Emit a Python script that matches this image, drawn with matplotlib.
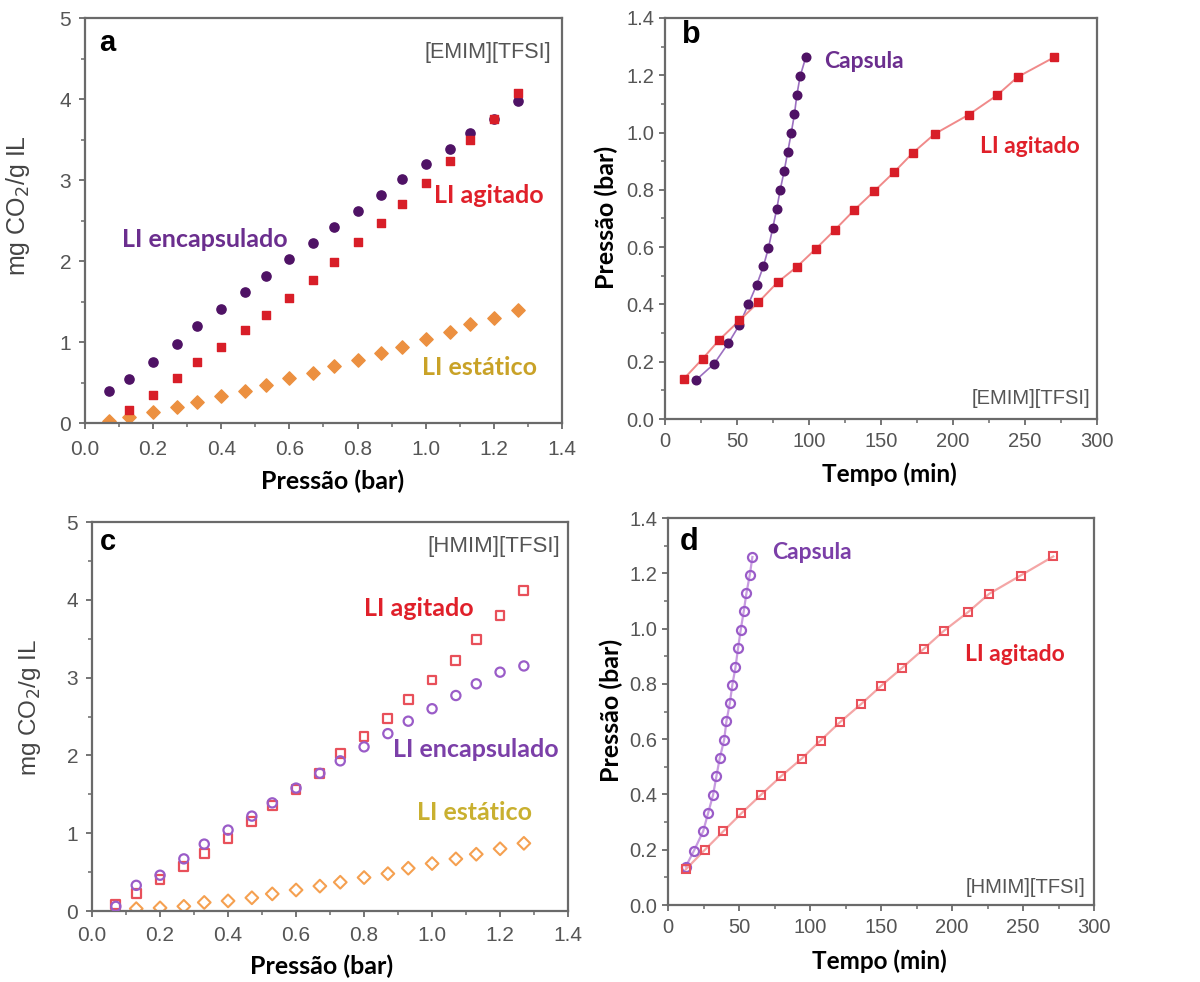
import matplotlib
matplotlib.use("Agg")
import matplotlib.pyplot as plt
from matplotlib.ticker import MultipleLocator, FormatStrFormatter

# ---- panels a / c : uptake vs pressure ----
p_all = [0.07, 0.13, 0.2, 0.27, 0.33, 0.4, 0.47, 0.53, 0.6, 0.67,
         0.73, 0.8, 0.87, 0.93, 1.0, 1.07, 1.13, 1.2, 1.27]
p_from2 = p_all[1:]

a_encaps = [0.40, 0.54, 0.75, 0.98, 1.20, 1.41, 1.62, 1.82, 2.02, 2.22,
            2.42, 2.62, 2.82, 3.01, 3.20, 3.38, 3.58, 3.76, 3.98]
a_agit = [0.16, 0.35, 0.55, 0.75, 0.94, 1.15, 1.33, 1.54, 1.76, 1.99,
          2.23, 2.47, 2.70, 2.96, 3.24, 3.50, 3.76, 4.08]
a_estat = [0.02, 0.07, 0.14, 0.20, 0.26, 0.33, 0.40, 0.47, 0.55, 0.62,
           0.70, 0.78, 0.87, 0.94, 1.04, 1.13, 1.22, 1.30, 1.39]

c_agit = [0.08, 0.23, 0.40, 0.57, 0.74, 0.93, 1.15, 1.36, 1.56, 1.77,
          2.02, 2.24, 2.47, 2.72, 2.97, 3.22, 3.49, 3.80, 4.12]
c_encaps = [0.06, 0.33, 0.46, 0.67, 0.86, 1.04, 1.22, 1.39, 1.58, 1.77,
            1.93, 2.11, 2.28, 2.44, 2.60, 2.77, 2.92, 3.07, 3.15]
c_estat = [0.03, 0.04, 0.06, 0.11, 0.13, 0.17, 0.22, 0.27, 0.32, 0.37,
           0.43, 0.48, 0.55, 0.61, 0.67, 0.73, 0.80, 0.87]

# ---- panels b / d : pressure vs time ----
b_agit_t = [13.2, 26.2, 37.8, 51.7, 64.9, 78.1, 91.5, 104.9, 118.1, 131.3,
            145.2, 159.1, 172.1, 187.2, 210.8, 230.5, 244.9, 270.3]
b_agit_p = [0.141, 0.211, 0.277, 0.344, 0.408, 0.477, 0.531, 0.595, 0.661, 0.729,
            0.795, 0.862, 0.929, 0.995, 1.062, 1.130, 1.194, 1.263]
b_caps_t = [21.3, 34.1, 44.0, 51.7, 57.9, 63.7, 68.3, 71.8, 74.8, 77.6,
            79.9, 82.7, 85.2, 87.6, 89.9, 91.5, 93.8, 97.8]
b_caps_p = [0.135, 0.193, 0.265, 0.329, 0.401, 0.469, 0.533, 0.597, 0.667, 0.734,
            0.798, 0.865, 0.932, 0.998, 1.065, 1.130, 1.196, 1.264]

d_agit_t = [12.5, 25.8, 38.8, 51.7, 65.3, 79.4, 94.0, 107.4, 121.0, 136.2,
            150.3, 165.1, 180.2, 194.5, 211.4, 226.2, 248.3, 271.3]
d_agit_p = [0.129, 0.199, 0.266, 0.332, 0.398, 0.465, 0.529, 0.595, 0.661, 0.728,
            0.794, 0.859, 0.927, 0.993, 1.060, 1.126, 1.192, 1.261]
d_caps_t = [12.5, 18.3, 24.7, 28.2, 31.7, 34.1, 36.4, 39.5, 41.1, 43.5,
            45.3, 47.5, 49.3, 51.2, 53.3, 55.2, 57.6, 59.4]
d_caps_p = [0.139, 0.197, 0.266, 0.332, 0.398, 0.467, 0.531, 0.597, 0.664, 0.730,
            0.797, 0.860, 0.929, 0.996, 1.062, 1.128, 1.195, 1.259]

purple = '#4f1265'
red = '#d81e28'
orange = '#ec9040'
txt_purple = '#6b2e8e'
txt_purple2 = '#7b3fa8'
txt_red = '#e0202a'
txt_gold = '#c9a227'
hol_red = '#e8505a'
hol_purple = '#9a5cc8'
hol_orange = '#f5a050'
frame = '#6a6a6a'
tickc = '#555555'
lbl_font = 'Lato'
sans = 'Liberation Sans'

fig = plt.figure(figsize=(12, 9.82), dpi=100)
ax_a = fig.add_axes([0.0708, 0.5692, 0.3975, 0.4124])
ax_b = fig.add_axes([0.5542, 0.5733, 0.36, 0.4084])
ax_c = fig.add_axes([0.0767, 0.0723, 0.3967, 0.3961])
ax_d = fig.add_axes([0.5567, 0.0784, 0.355, 0.3941])


def style(ax, xlim, ylim, xmaj, xmin, ymaj, ymin, xpad, ypad, lsize):
    ax.set_xlim(*xlim)
    ax.set_ylim(*ylim)
    ax.xaxis.set_major_locator(MultipleLocator(xmaj))
    ax.xaxis.set_minor_locator(MultipleLocator(xmin))
    ax.yaxis.set_major_locator(MultipleLocator(ymaj))
    ax.yaxis.set_minor_locator(MultipleLocator(ymin))
    for s in ax.spines.values():
        s.set_color(frame)
        s.set_linewidth(1.6)
    ax.tick_params(which='major', direction='out', length=4, width=1.3,
                   color=frame, labelcolor=tickc, labelsize=lsize)
    ax.tick_params(axis='x', which='major', pad=xpad)
    ax.tick_params(axis='y', which='major', pad=ypad)
    ax.tick_params(which='minor', direction='out', length=3, width=1.1, color=frame)


# panel a
ax_a.scatter(p_all, a_encaps, s=44, marker='o', color=purple, zorder=3)
ax_a.scatter(p_from2, a_agit, s=38, marker='s', color=red, zorder=3)
ax_a.scatter(p_all, a_estat, s=46, marker='D', color=orange, zorder=2)
style(ax_a, (0, 1.4), (0, 5), 0.2, 0.1, 1, 0.5, 8, 6, 15)
ax_a.xaxis.set_major_formatter(FormatStrFormatter('%.1f'))
ax_a.text(0.041, 4.69, 'a', fontsize=21, fontweight='bold', family=sans, va='center')
ax_a.text(1.368, 4.57, '[EMIM][TFSI]', fontsize=15.5, color=tickc, family=sans,
          ha='right', va='center')
ax_a.text(0.109, 2.26, 'LI encapsulado', fontsize=18, fontweight='bold',
          color=txt_purple, family=lbl_font, va='center')
ax_a.text(1.024, 2.81, 'LI agitado', fontsize=18, fontweight='bold',
          color=txt_red, family=lbl_font, va='center')
ax_a.text(0.988, 0.69, 'LI estático', fontsize=18, fontweight='bold',
          color=txt_gold, family=lbl_font, va='center')
ax_a.set_xlabel('Pressão (bar)', fontsize=18, fontweight='bold', family=lbl_font)
ax_a.set_ylabel('mg CO$_2$/g IL', fontsize=18, color='#444444', family=sans)
ax_a.xaxis.set_label_coords(0.52, -0.114)
ax_a.yaxis.set_label_coords(-0.111, 0.536)

# panel b
ax_b.plot(b_caps_t, b_caps_p, '-', color='#9b6fc0', lw=1.2, zorder=2)
ax_b.plot(b_caps_t, b_caps_p, 'o', color=purple, ms=6.2, zorder=3)
ax_b.plot(b_agit_t, b_agit_p, '-', color='#f08a8a', lw=1.4, zorder=2)
ax_b.plot(b_agit_t, b_agit_p, 's', color=red, ms=5.8, zorder=3)
style(ax_b, (0, 300), (0, 1.4), 50, 25, 0.2, 0.1, 5, 3.5, 14.5)
ax_b.yaxis.set_major_formatter(FormatStrFormatter('%.1f'))
ax_b.text(11.8, 1.34, 'b', fontsize=22, fontweight='bold', family=sans, va='center')
ax_b.text(295, 0.073, '[EMIM][TFSI]', fontsize=14.5, color=tickc, family=sans,
          ha='right', va='center')
ax_b.text(110.4, 1.247, 'Capsula', fontsize=16.5, fontweight='bold',
          color=txt_purple, family=lbl_font, va='center')
ax_b.text(218.7, 0.95, 'LI agitado', fontsize=16.5, fontweight='bold',
          color=txt_red, family=lbl_font, va='center')
ax_b.set_xlabel('Tempo (min)', fontsize=17.5, fontweight='bold', family=lbl_font)
ax_b.set_ylabel('Pressão (bar)', fontsize=18, fontweight='bold', family=lbl_font)
ax_b.xaxis.set_label_coords(0.52, -0.107)
ax_b.yaxis.set_label_coords(-0.108, 0.502)

# panel c
ax_c.scatter(p_all, c_agit, s=40, marker='s', facecolors='none',
             edgecolors=hol_red, linewidths=1.6, zorder=3)
ax_c.scatter(p_all, c_encaps, s=44, marker='o', facecolors='none',
             edgecolors=hol_purple, linewidths=1.6, zorder=3)
ax_c.scatter(p_from2, c_estat, s=42, marker='D', facecolors='none',
             edgecolors=hol_orange, linewidths=1.5, zorder=2)
style(ax_c, (0, 1.4), (0, 5), 0.2, 0.1, 1, 0.5, 7, 6, 15)
ax_c.xaxis.set_major_formatter(FormatStrFormatter('%.1f'))
ax_c.text(0.024, 4.74, 'c', fontsize=21, fontweight='bold', family=sans, va='center')
ax_c.text(1.376, 4.68, '[HMIM][TFSI]', fontsize=16, color=tickc, family=sans,
          ha='right', va='center')
ax_c.text(0.80, 3.89, 'LI agitado', fontsize=18, fontweight='bold',
          color=txt_red, family=lbl_font, va='center')
ax_c.text(0.885, 2.07, 'LI encapsulado', fontsize=18, fontweight='bold',
          color=txt_purple2, family=lbl_font, va='center')
ax_c.text(0.956, 1.26, 'LI estático', fontsize=18, fontweight='bold',
          color='#c9b030', family=lbl_font, va='center')
ax_c.set_xlabel('Pressão (bar)', fontsize=18, fontweight='bold', family=lbl_font)
ax_c.set_ylabel('mg CO$_2$/g IL', fontsize=17.5, color='#444444', family=sans)
ax_c.xaxis.set_label_coords(0.483, -0.111)
ax_c.yaxis.set_label_coords(-0.103, 0.522)

# panel d
ax_d.plot(d_caps_t, d_caps_p, '-', color='#c79be0', lw=1.6, zorder=2)
ax_d.plot(d_caps_t, d_caps_p, 'o', mfc='none', mec=hol_purple, mew=1.6, ms=6.5, zorder=3)
ax_d.plot(d_agit_t, d_agit_p, '-', color='#f4a6a6', lw=1.6, zorder=2)
ax_d.plot(d_agit_t, d_agit_p, 's', mfc='none', mec=hol_red, mew=1.5, ms=6, zorder=3)
style(ax_d, (0, 300), (0, 1.4), 50, 25, 0.2, 0.1, 5, 3.5, 14.5)
ax_d.yaxis.set_major_formatter(FormatStrFormatter('%.1f'))
ax_d.text(8.5, 1.313, 'd', fontsize=22, fontweight='bold', family=sans, va='center')
ax_d.text(293.7, 0.065, '[HMIM][TFSI]', fontsize=14.5, color=tickc, family=sans,
          ha='right', va='center')
ax_d.text(73.2, 1.277, 'Capsula', fontsize=16.5, fontweight='bold',
          color=txt_purple2, family=lbl_font, va='center')
ax_d.text(209, 0.905, 'LI agitado', fontsize=16.5, fontweight='bold',
          color=txt_red, family=lbl_font, va='center')
ax_d.set_xlabel('Tempo (min)', fontsize=17.5, fontweight='bold', family=lbl_font)
ax_d.set_ylabel('Pressão (bar)', fontsize=18, fontweight='bold', family=lbl_font)
ax_d.xaxis.set_label_coords(0.495, -0.114)
ax_d.yaxis.set_label_coords(-0.106, 0.502)

for ax in (ax_a, ax_b, ax_c, ax_d):
    for lab in ax.get_xticklabels() + ax.get_yticklabels():
        lab.set_family(sans)

fig.savefig('out.png', dpi=100)
